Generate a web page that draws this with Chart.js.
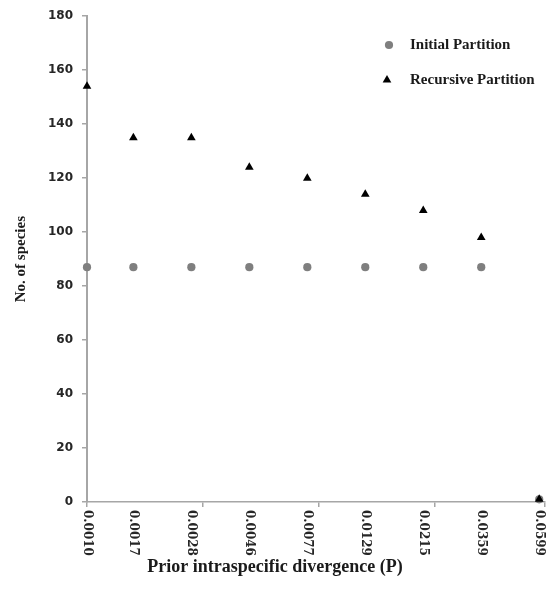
<!DOCTYPE html>
<html>
<head>
<meta charset="utf-8">
<script src="https://cdn.jsdelivr.net/npm/chart.js@4.4.1/dist/chart.umd.min.js"></script>
<style>
  body { margin: 0; background: #fff; }
  #wrap { width: 550px; height: 597px; }
</style>
</head>
<body>
<div id="wrap"><canvas id="speciesChart"></canvas></div>
<script>
// divergence values shown under the axis, and where each one sits along it
const priorLabels = ['0.0010', '0.0017', '0.0028', '0.0046', '0.0077', '0.0129', '0.0215', '0.0359', '0.0599'];
const priorPos = [0, 0.8, 1.8, 2.8, 3.8, 4.8, 5.8, 6.8, 7.8];

const initialCounts = [87, 87, 87, 87, 87, 87, 87, 87, 1];
const recursiveCounts = [154, 135, 135, 124, 120, 114, 108, 98, 1];

const yTicks = [0, 20, 40, 60, 80, 100, 120, 140, 160, 180];

const axisGrey = '#a6a6a6';
const textDark = '#262626';

function toPoints(values) {
    return priorPos.map((x, i) => ({ x: x, y: values[i] }));
}

// rotated labels reading top to bottom, like the original
const divergenceLabels = {
    id: 'divergenceLabels',
    afterDraw(chart) {
        const ctx = chart.ctx;
        const xs = chart.scales.x;
        ctx.save();
        ctx.font = 'bold 12px "DejaVu Serif"';
        ctx.fillStyle = textDark;
        ctx.textAlign = 'left';
        ctx.textBaseline = 'middle';
        priorLabels.forEach((label, i) => {
            ctx.save();
            ctx.translate(xs.getPixelForValue(priorPos[i]), xs.top + 8);
            ctx.rotate(Math.PI / 2);
            ctx.fillText(label, 0, 0);
            ctx.restore();
        });
        ctx.restore();
    }
};

// legend sitting inside the plot, top right
const cornerLegend = {
    id: 'cornerLegend',
    afterDraw(chart) {
        const ctx = chart.ctx;
        ctx.save();
        ctx.font = 'bold 15px "Liberation Serif"';
        ctx.textBaseline = 'middle';
        chart.data.datasets.forEach((ds, i) => {
            const y = 45 + i * 35;
            const x = 389;
            ctx.fillStyle = ds.backgroundColor;
            ctx.beginPath();
            if (ds.pointStyle === 'triangle') {
                const r = ds.pointRadius;
                ctx.moveTo(x - 2, y - r);
                ctx.lineTo(x - 2 - r * 0.866, y + r / 2);
                ctx.lineTo(x - 2 + r * 0.866, y + r / 2);
                ctx.closePath();
            } else {
                ctx.arc(x, y, ds.pointRadius, 0, Math.PI * 2);
            }
            ctx.fill();
            ctx.fillStyle = '#1a1a1a';
            ctx.fillText(ds.label, 410, y);
        });
        ctx.restore();
    }
};

const ctx = document.getElementById('speciesChart').getContext('2d');

new Chart(ctx, {
    type: 'scatter',
    data: {
        datasets: [{
            label: 'Initial Partition',
            data: toPoints(initialCounts),
            pointStyle: 'circle',
            pointRadius: 4.1,
            pointBorderWidth: 0,
            backgroundColor: '#7f7f7f',
            borderColor: '#7f7f7f',
            clip: false,
            order: 2
        }, {
            label: 'Recursive Partition',
            data: toPoints(recursiveCounts),
            pointStyle: 'triangle',
            pointRadius: 5,
            pointBorderWidth: 0,
            backgroundColor: '#000000',
            borderColor: '#000000',
            clip: false,
            order: 1
        }]
    },
    options: {
        responsive: true,
        maintainAspectRatio: false,
        animation: false,
        layout: { padding: { top: 16, right: 0, bottom: 0, left: 0 } },
        plugins: {
            legend: { display: false },
            tooltip: { enabled: false },
            title: {
                display: true,
                position: 'bottom',
                text: 'Prior intraspecific divergence (P)',
                color: '#1a1a1a',
                font: { family: '"Liberation Serif"', size: 18, weight: 'bold' },
                padding: { top: 10, bottom: 19 }
            }
        },
        scales: {
            x: {
                type: 'linear',
                min: 0,
                max: 7.9,
                afterFit: s => { s.height = 44.4; },
                border: { color: axisGrey, width: 1.5 },
                grid: { drawOnChartArea: false, tickLength: 5, color: axisGrey, lineWidth: 1.5 },
                ticks: { display: false, stepSize: 2 }
            },
            y: {
                min: 0,
                max: 180,
                afterBuildTicks: s => { s.ticks = yTicks.map(v => ({ value: v })); },
                afterFit: s => { s.width = 87; },
                border: { color: axisGrey, width: 2 },
                grid: { drawOnChartArea: false, tickLength: 5, color: axisGrey, lineWidth: 1.5 },
                ticks: {
                    padding: 9,
                    color: textDark,
                    font: { family: '"DejaVu Sans"', size: 12, weight: 'bold' }
                },
                title: {
                    display: true,
                    text: 'No. of species',
                    color: '#1a1a1a',
                    font: { family: '"Liberation Serif"', size: 15, weight: 'bold' },
                    padding: { top: 12 }
                }
            }
        }
    },
    plugins: [divergenceLabels, cornerLegend]
});
</script>
</body>
</html>
